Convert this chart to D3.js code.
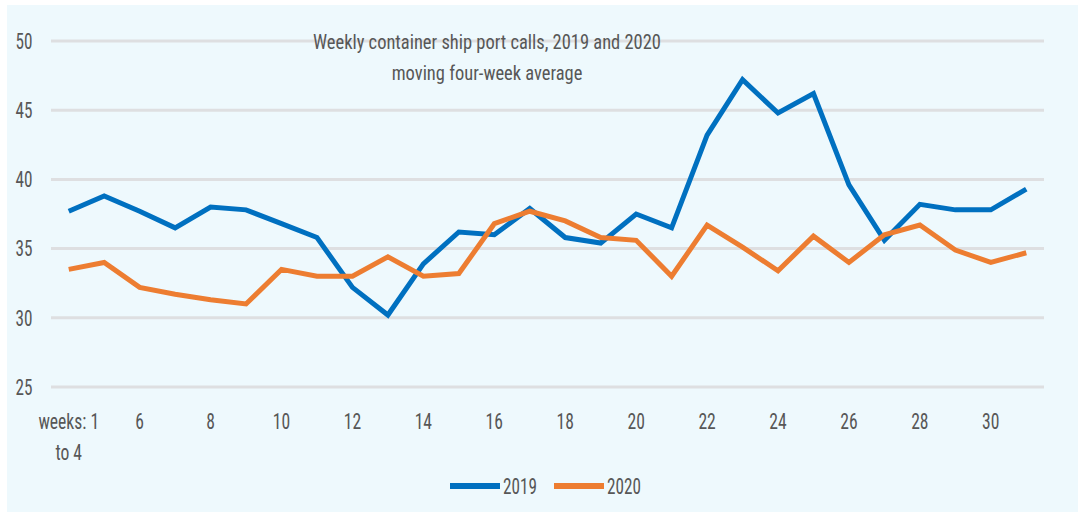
<!DOCTYPE html>
<html>
<head>
<meta charset="utf-8">
<script src="https://cdn.jsdelivr.net/npm/d3@7"></script>
<style>
  html, body { margin: 0; padding: 0; background: #ffffff; }
  svg { display: block; }
  text { font-family: "Liberation Sans Narrow", "Arial Narrow", "Roboto Condensed", Roboto, sans-serif; fill: #575757; }
</style>
</head>
<body>
<svg width="1078" height="520"></svg>
<script>
// weeks; the first point is the average of weeks 1 to 4
var weeks = ["1 to 4", "5", "6", "7", "8", "9", "10", "11", "12", "13", "14", "15", "16", "17",
    "18", "19", "20", "21", "22", "23", "24", "25", "26", "27", "28", "29", "30", "31"];

var calls2019 = [37.7, 38.8, 37.7, 36.5, 38.0, 37.8, 36.8, 35.8, 32.2, 30.2, 33.9, 36.2, 36.0, 37.9,
    35.8, 35.4, 37.5, 36.5, 43.2, 47.2, 44.8, 46.2, 39.6, 35.6, 38.2, 37.8, 37.8, 39.3];

var calls2020 = [33.5, 34.0, 32.2, 31.7, 31.3, 31.0, 33.5, 33.0, 33.0, 34.4, 33.0, 33.2, 36.8, 37.7,
    37.0, 35.8, 35.6, 33.0, 36.7, 35.1, 33.4, 35.9, 34.0, 36.0, 36.7, 34.9, 34.0, 34.7];

var yTicks = [25, 30, 35, 40, 45, 50];

var titleLines = ["Weekly container ship port calls, 2019 and 2020", "moving four-week average"];

var series = [
    {name: "2019", values: calls2019, color: "#0070c0"},
    {name: "2020", values: calls2020, color: "#ed7d31"}
];

var svg = d3.select("svg");

// the original uses a condensed face, so squeeze text horizontally
function squeeze(px, py, sx) {
    return "translate(" + px + "," + py + ") scale(" + sx + ",1)";
}

// light blue panel
svg.append("rect")
    .attr("x", 7)
    .attr("y", 5)
    .attr("width", 1071)
    .attr("height", 507)
    .attr("fill", "#eef9fd");

var x = d3.scalePoint()
    .domain(weeks)
    .range([51, 1044])
    .padding(0.5);

var y = d3.scaleLinear()
    .domain([25, 50])
    .range([387, 41]);

// gridlines
svg.append("g")
    .selectAll("line")
    .data(yTicks)
    .enter().append("line")
    .attr("x1", 51)
    .attr("x2", 1044)
    .attr("y1", function (d) { return y(d); })
    .attr("y2", function (d) { return y(d); })
    .attr("stroke", "#dedfe1")
    .attr("stroke-width", 3);

// y labels
svg.append("g")
    .selectAll("text")
    .data(yTicks)
    .enter().append("text")
    .attr("transform", function (d) { return squeeze(24, y(d), 0.78); })
    .attr("dy", "0.35em")
    .attr("text-anchor", "middle")
    .style("font-size", "22px")
    .text(function (d) { return d; });

// x labels, every second week
var xLab = svg.append("g")
    .selectAll("text")
    .data(weeks.filter(function (d, i) { return i % 2 === 0; }))
    .enter().append("text")
    .attr("transform", function (d) { return squeeze(x(d), 421, 0.8); })
    .attr("dy", "0.35em")
    .attr("text-anchor", "middle")
    .style("font-size", "22px");

xLab.each(function (d) {
    var t = d3.select(this);
    if (d === weeks[0]) {
        t.append("tspan").attr("x", 0).text("weeks: 1");
        t.append("tspan").attr("x", 0).attr("dy", 31).text("to 4");
    } else {
        t.text(d);
    }
});

// lines
var line = d3.line()
    .x(function (d, i) { return x(weeks[i]); })
    .y(function (d) { return y(d); });

svg.append("g")
    .selectAll("path")
    .data(series)
    .enter().append("path")
    .attr("d", function (d) { return line(d.values); })
    .attr("fill", "none")
    .attr("stroke", function (d) { return d.color; })
    .attr("stroke-width", 5)
    .attr("stroke-linejoin", "miter");

// title
svg.append("g")
    .selectAll("text")
    .data(titleLines)
    .enter().append("text")
    .attr("transform", function (d, i) { return squeeze(487, 42 + i * 31, 0.88); })
    .attr("dy", "0.35em")
    .attr("text-anchor", "middle")
    .style("font-size", "21px")
    .text(function (d) { return d; });

// legend
var legend = svg.append("g")
    .selectAll("g")
    .data(series)
    .enter().append("g")
    .attr("transform", function (d, i) { return "translate(" + (450 + i * 104) + ",486)"; });

legend.append("line")
    .attr("x1", 0)
    .attr("x2", 50)
    .attr("stroke", function (d) { return d.color; })
    .attr("stroke-width", 6);

legend.append("text")
    .attr("transform", squeeze(53, 0, 0.78))
    .attr("dy", "0.35em")
    .style("font-size", "22px")
    .text(function (d) { return d.name; });
</script>
</body>
</html>
